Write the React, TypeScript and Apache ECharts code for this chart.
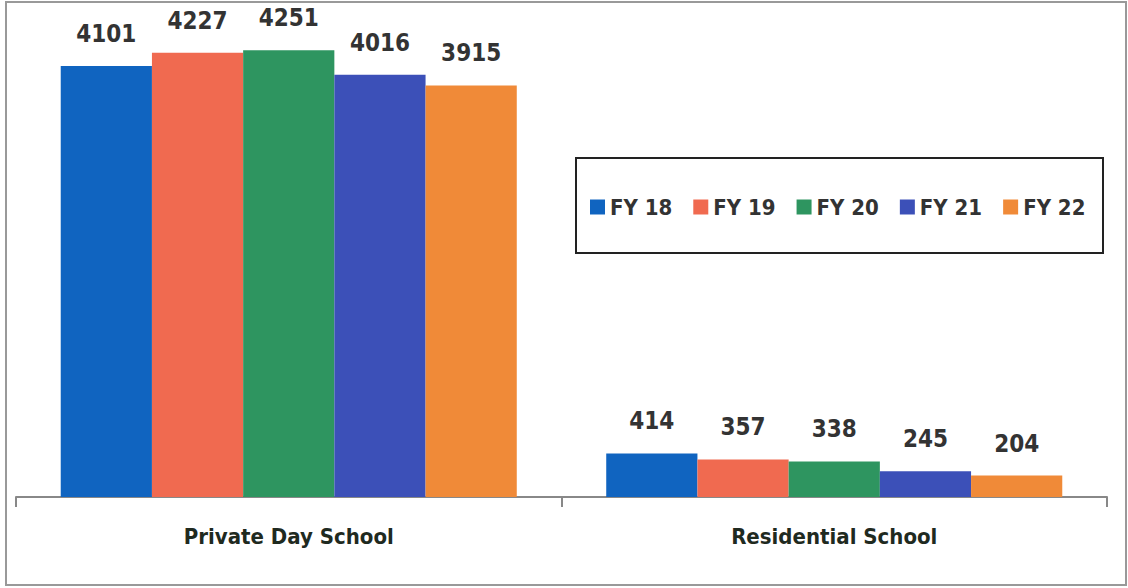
import React, { useEffect, useRef } from "react";
import * as echarts from "echarts";

const categories = ["Private Day School", "Residential School"];
const seriesNames = ["FY 18", "FY 19", "FY 20", "FY 21", "FY 22"];
const fy18 = [4101, 414];
const fy19 = [4227, 357];
const fy20 = [4251, 338];
const fy21 = [4016, 245];
const fy22 = [3915, 204];
const colors = ["#1064C0", "#F06A50", "#2E9560", "#3C50B8", "#F08A38"];

const FONT = "'DejaVu Sans Condensed', 'DejaVu Sans', sans-serif";

export default function App() {
  const ref = useRef<HTMLDivElement>(null);
  useEffect(() => {
    if (!ref.current) return;
    const chart = echarts.init(ref.current, undefined, { renderer: "svg" });
    const values = [fy18, fy19, fy20, fy21, fy22];
    chart.setOption({
      animation: false,
      backgroundColor: "#ffffff",
      grid: { left: 16, right: 21, top: 24, bottom: 91, containLabel: false },
      legend: {
        data: seriesNames,
        left: 585,
        top: 191,
        itemWidth: 15,
        itemHeight: 15,
        itemGap: 21,
        icon: "rect",
        textStyle: { fontFamily: FONT, fontWeight: "bold", fontSize: 22, color: "#333333" },
      },
      xAxis: {
        type: "category",
        data: categories,
        axisLine: { lineStyle: { color: "#888888", width: 2 } },
        axisTick: { show: true, length: 10, lineStyle: { color: "#888888", width: 2 } },
        axisLabel: {
          margin: 28,
          fontFamily: FONT,
          fontWeight: "bold",
          fontSize: 22,
          color: "#1F2A1F",
        },
      },
      yAxis: {
        type: "value",
        min: 0,
        max: 4500,
        show: false,
        splitLine: { show: false },
      },
      graphic: [
        {
          type: "rect",
          shape: { x: 6, y: 2, width: 1120, height: 583 },
          style: { fill: "none", stroke: "#999999", lineWidth: 2 },
          silent: true,
        },
        {
          type: "rect",
          shape: { x: 576, y: 158, width: 527, height: 95 },
          style: { fill: "none", stroke: "#222222", lineWidth: 2 },
          silent: true,
        },
      ],
      series: seriesNames.map((name, i) => ({
        name,
        type: "bar",
        data: values[i],
        barGap: "0%",
        barCategoryGap: "16.4%",
        itemStyle: { color: colors[i] },
        label: {
          show: true,
          position: "top",
          distance: 20,
          fontFamily: FONT,
          fontWeight: "bold",
          fontSize: 24,
          color: "#333333",
        },
      })),
    });
    return () => chart.dispose();
  }, []);
  return (
    <div
      ref={ref}
      style={{ position: "fixed", left: 0, top: 0, width: 1128, height: 588 }}
    />
  );
}
